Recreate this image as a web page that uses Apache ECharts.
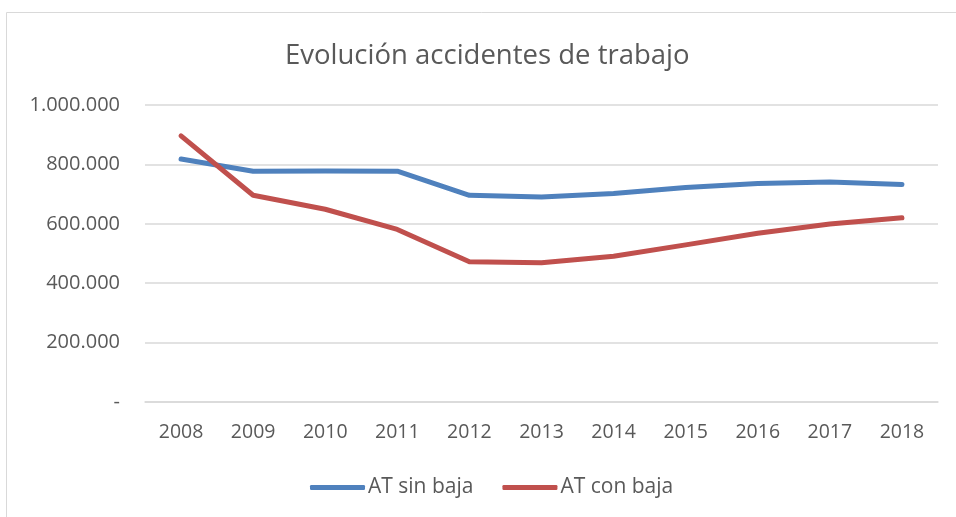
<!DOCTYPE html>
<html>
<head>
<meta charset="utf-8">
<script src="https://cdn.jsdelivr.net/npm/echarts@6/dist/echarts.min.js"></script>
<style>
  html, body { margin: 0; padding: 0; background: #fff; }
  #chart { width: 956px; height: 517px; }
</style>
</head>
<body>
<div id="chart"></div>
<script>
const years = ['2008', '2009', '2010', '2011', '2012', '2013', '2014', '2015', '2016', '2017', '2018'];
const sinBaja = [818000, 777000, 778000, 777000, 696000, 690000, 702000, 722000, 736000, 741000, 732000];
const conBaja = [896000, 696000, 649000, 581000, 472000, 469000, 491000, 529000, 568000, 599000, 620000];

const chart = echarts.init(document.getElementById('chart'));
const font = '"Open Sans", sans-serif';

const option = {
  animation: false,
  graphic: [{
    type: 'rect',
    shape: { x: 6.5, y: 12.5, width: 1000, height: 600 },
    style: { fill: 'none', stroke: '#d9d9d9', lineWidth: 1 }
  }],
  title: {
    text: 'Evolución accidentes de trabajo',
    left: 280,
    top: 37,
    textStyle: { fontFamily: font, fontSize: 27.5, fontWeight: 'normal', color: '#595959' }
  },
  grid: { left: 145, right: 18, top: 105, bottom: 115 },
  xAxis: {
    type: 'category',
    data: years,
    boundaryGap: true,
    axisLine: { lineStyle: { color: '#d9d9d9', width: 1.5 } },
    axisTick: { show: false },
    axisLabel: { margin: 20, fontFamily: font, fontSize: 19.5, color: '#595959' }
  },
  yAxis: {
    type: 'value',
    min: 0,
    max: 1000000,
    interval: 200000,
    axisLine: { show: false },
    axisTick: { show: false },
    splitLine: { lineStyle: { color: '#d9d9d9', width: 1.5 } },
    axisLabel: {
      margin: 25,
      fontFamily: font,
      fontSize: 20,
      color: '#595959',
      formatter: v => v === 0 ? '-' : String(v).replace(/\B(?=(\d{3})+(?!\d))/g, '.')
    }
  },
  legend: {
    bottom: 14,
    left: 305,
    icon: 'roundRect',
    itemWidth: 55,
    itemHeight: 5,
    itemGap: 29,
    textStyle: { fontFamily: font, fontSize: 21, color: '#595959', padding: [0, 0, 0, -2] },
    data: ['AT sin baja', 'AT con baja']
  },
  series: [
    {
      name: 'AT sin baja',
      type: 'line',
      data: sinBaja,
      symbol: 'none',
      lineStyle: { color: '#4f81bd', width: 5, cap: 'round', join: 'round' },
      itemStyle: { color: '#4f81bd' }
    },
    {
      name: 'AT con baja',
      type: 'line',
      data: conBaja,
      symbol: 'none',
      lineStyle: { color: '#c0504d', width: 5, cap: 'round', join: 'round' },
      itemStyle: { color: '#c0504d' }
    }
  ]
};

chart.setOption(option);
</script>
</body>
</html>
